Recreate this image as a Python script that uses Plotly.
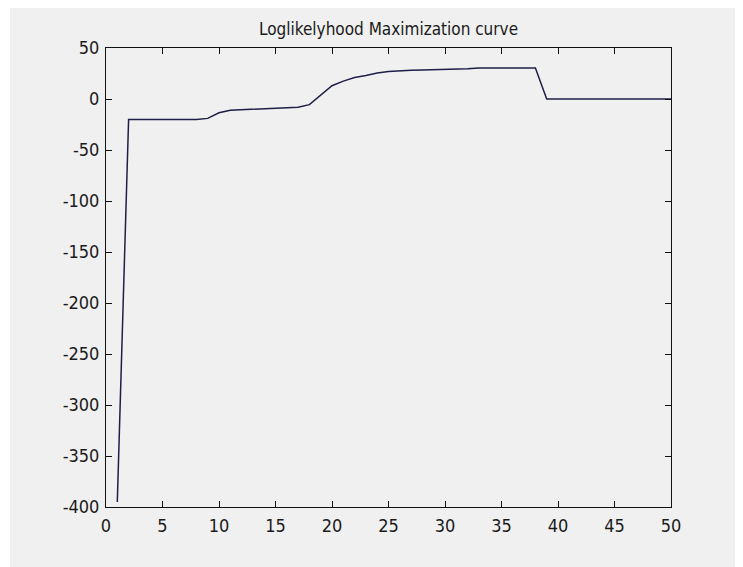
import plotly.graph_objects as go

iterations = list(range(1, 51))
loglik = [
    -395, -20, -20, -20, -20, -20, -20, -20, -19, -13.5,
    -11, -10.5, -10, -9.5, -9, -8.5, -8, -5.5, 4, 13,
    17.5, 21, 23, 25.5, 27, 28, 28.3, 28.5, 28.7, 29,
    29.3, 29.7, 30.3, 30.5, 30.5, 30.5, 30.5, 30.5, 0, 0,
    0, 0, 0, 0, 0, 0, 0, 0, 0, 0,
]
x_ticks = [0, 5, 10, 15, 20, 25, 30, 35, 40, 45, 50]
y_ticks = [50, 0, -50, -100, -150, -200, -250, -300, -350, -400]
title_text = "Loglikelyhood Maximization curve"

# page body has an 8px margin, so the figure is laid out in page coords minus 8
W, H = 743, 567
ML, MR, MT, MB = 98, 80, 40, 68
PW, PH = W - ML - MR, H - MT - MB
BG = "#f0f0f0"
FONT = "Liberation Sans Narrow, Arial Narrow, DejaVu Sans Condensed, Liberation Sans, sans-serif"

def px_x(p):
    return (p - ML) / PW

def px_y(p):
    return (H - MB - p) / PH

fig = go.Figure()
fig.add_trace(go.Scatter(
    x=iterations, y=loglik, mode="lines",
    line=dict(color="#1e1e48", width=1.5),
    hoverinfo="skip", showlegend=False,
))

axis_common = dict(
    showgrid=False, zeroline=False, showline=True, linecolor="#111111", linewidth=1,
    mirror="allticks", ticks="inside", ticklen=6, tickcolor="#111111", tickwidth=1,
    tickfont=dict(family=FONT, size=18, color="#1a1a1a"),
    ticklabelstandoff=2,
)
fig.update_xaxes(range=[0, 50], tickvals=x_ticks, ticktext=[str(v) for v in x_ticks], **axis_common)
fig.update_yaxes(range=[-400, 50], tickvals=y_ticks, ticktext=[str(v) for v in y_ticks], **axis_common)

fig.add_shape(type="rect", xref="paper", yref="paper",
              x0=px_x(2), x1=px_x(W + 5), y0=px_y(H + 5), y1=px_y(-5),
              fillcolor=BG, line=dict(width=0), layer="below")

fig.update_layout(
    width=W, height=H, autosize=False,
    margin=dict(l=ML, r=MR, t=MT, b=MB),
    paper_bgcolor="white", plot_bgcolor=BG,
    title=dict(text=title_text, x=0.5, xref="paper", xanchor="center",
               y=1 - 21 / H, yref="container", yanchor="middle",
               font=dict(family=FONT, size=17, color="#1a1a1a")),
)

fig.write_html("out.html", config={"displayModeBar": False})
